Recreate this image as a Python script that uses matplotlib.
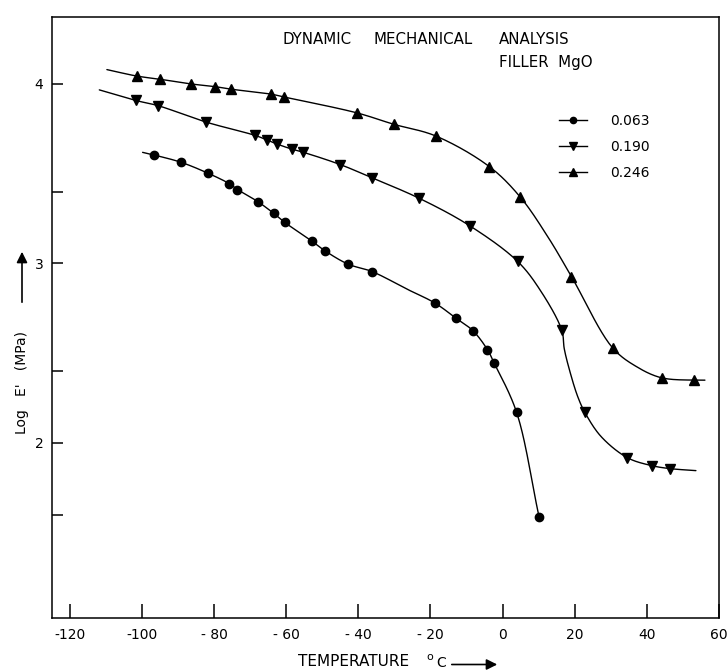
import numpy as np
import matplotlib
matplotlib.use('Agg')
import matplotlib.pyplot as plt
import matplotlib.patches as mpatches
from matplotlib.lines import Line2D

# ---------------- data ----------------
labels = ['0.063', '0.190', '0.246']

# measured points (markers)
c063_T = [-96.6, -89.2, -81.8, -75.8, -73.5, -67.9, -63.5, -60.4, -52.9, -49.2,
          -42.8, -36.2, -18.8, -12.9, -8.2, -4.2, -2.4, 3.9, 10.1]
c063_E = [3.604, 3.564, 3.504, 3.445, 3.412, 3.345, 3.280, 3.229, 3.125, 3.070,
          2.996, 2.955, 2.780, 2.695, 2.625, 2.520, 2.448, 2.170, 1.589]

c190_T = [-101.7, -95.5, -82.1, -68.7, -65.4, -62.5, -58.4, -55.2, -45.0, -36.3,
          -23.1, -9.1, 4.2, 16.4, 22.8, 34.6, 41.3, 46.5]
c190_E = [3.908, 3.879, 3.787, 3.714, 3.689, 3.665, 3.637, 3.619, 3.551, 3.478,
          3.363, 3.210, 3.011, 2.629, 2.171, 1.918, 1.874, 1.857]

c246_T = [-101.4, -94.9, -86.4, -79.7, -75.3, -64.1, -60.5, -40.4, -30.1, -18.5,
          -3.7, 4.9, 19.1, 30.5, 44.1, 53.1]
c246_E = [4.044, 4.026, 4.000, 3.985, 3.971, 3.943, 3.927, 3.839, 3.775, 3.710,
          3.540, 3.370, 2.927, 2.530, 2.363, 2.350]

# extra points (no markers there)
c063_trace_T = [-99.8, -26.3]
c063_trace_E = [3.619, 2.855]
c190_trace_T = [-111.8, 10.6, 17.1, 18.5, 20.8, 27.3, 53.6]
c190_trace_E = [3.967, 2.846, 2.525, 2.410, 2.260, 2.036, 1.846]
c246_trace_T = [-109.7, 12.5, 37.4, 56.1]
c246_trace_E = [4.080, 3.150, 2.422, 2.350]

x_ticks = [-120, -100, -80, -60, -40, -20, 0, 20, 40, 60]
x_ticklabels = ['-120', '-100', '- 80', '- 60', '- 40', '- 20', '0', '20', '40', '60']
y_ticks = [2, 3, 4]
y_minor = [1.6, 2.4, 3.4]

# ---------------- drawing helpers ----------------
W, H = 728, 671
fig = plt.figure(figsize=(W / 100, H / 100), dpi=100)
ax = fig.add_axes([51.7 / W, 1 - 618 / H, (719 - 51.7) / W, (618 - 17) / H])
ax.set_xlim(-125, 60)
ax.set_ylim(1.025, 4.373)

SX, SY = 3.606, 179.5  # px per unit, smoothing is done in visual space


def smooth_curve(T, E, n=24):
    P = np.column_stack([np.asarray(T) * SX, np.asarray(E) * SY])
    P = np.vstack([2 * P[0] - P[1], P, 2 * P[-1] - P[-2]])
    out = []
    for i in range(1, len(P) - 2):
        p0, p1, p2, p3 = P[i - 1], P[i], P[i + 1], P[i + 2]
        t0 = 0.0
        t1 = t0 + np.linalg.norm(p1 - p0) ** 0.5
        t2 = t1 + np.linalg.norm(p2 - p1) ** 0.5
        t3 = t2 + np.linalg.norm(p3 - p2) ** 0.5
        t = np.linspace(t1, t2, n)[:, None]
        A1 = (t1 - t) / (t1 - t0) * p0 + (t - t0) / (t1 - t0) * p1
        A2 = (t2 - t) / (t2 - t1) * p1 + (t - t1) / (t2 - t1) * p2
        A3 = (t3 - t) / (t3 - t2) * p2 + (t - t2) / (t3 - t2) * p3
        B1 = (t2 - t) / (t2 - t0) * A1 + (t - t0) / (t2 - t0) * A2
        B2 = (t3 - t) / (t3 - t1) * A2 + (t - t1) / (t3 - t1) * A3
        C = (t2 - t) / (t2 - t1) * B1 + (t - t1) / (t2 - t1) * B2
        out.append(C)
    C = np.vstack(out)
    return C[:, 0] / SX, C[:, 1] / SY


series = [
    (c063_T, c063_E, c063_trace_T, c063_trace_E, 'o', 6.0),
    (c190_T, c190_E, c190_trace_T, c190_trace_E, 'v', 7.0),
    (c246_T, c246_E, c246_trace_T, c246_trace_E, '^', 7.0),
]
handles = []
for (T, E, tT, tE, mk, ms), lab in zip(series, labels):
    allT = np.array(list(T) + list(tT))
    allE = np.array(list(E) + list(tE))
    order = np.argsort(allT)
    xs, ys = smooth_curve(allT[order], allE[order])
    ax.plot(xs, ys, color='black', lw=1.0, solid_capstyle='round')
    ax.plot(T, E, linestyle='none', marker=mk, ms=ms, color='black', mec='black')
    handles.append(Line2D([], [], color='black', lw=1.0, marker=mk, ms=ms - 1.5))

# ---------------- axes styling ----------------
for sp in ax.spines.values():
    sp.set_linewidth(1.1)
ax.set_xticks(x_ticks)
ax.set_xticklabels(x_ticklabels)
ax.set_yticks(y_ticks)
ax.set_yticklabels([str(v) for v in y_ticks])
ax.set_yticks(y_minor, minor=True)
ax.tick_params(axis='x', direction='in', length=10, width=1.1, labelsize=10, pad=7)
ax.tick_params(axis='y', which='both', direction='in', length=8, width=1.1, labelsize=10, pad=6)
ax.tick_params(axis='y', which='minor', labelleft=False)

leg = ax.legend(handles, labels, frameon=False, fontsize=10, handlelength=2.0,
                handletextpad=1.7, labelspacing=0.85, borderpad=0, borderaxespad=0,
                loc='center left', bbox_to_anchor=(559 / W, 1 - 147 / H),
                bbox_transform=fig.transFigure)


def fpx(x, y):
    return x / W, 1 - y / H


# title texts
for word, x0 in [('DYNAMIC', 282), ('MECHANICAL', 374), ('ANALYSIS', 499)]:
    fig.text(*fpx(x0, 39), word, fontsize=10.8, ha='left', va='center')
fig.text(*fpx(499, 63), 'FILLER  MgO', fontsize=10.8, ha='left', va='center')

# x label
fig.text(*fpx(298, 662), 'TEMPERATURE', fontsize=11, ha='left', va='center')
fig.text(*fpx(426, 657), 'o', fontsize=8, ha='left', va='center')
fig.text(*fpx(436, 663), 'C', fontsize=10, ha='left', va='center')
fig.add_artist(mpatches.FancyArrowPatch(
    fpx(449, 664.5), fpx(500, 664.5), transform=fig.transFigure,
    arrowstyle='-|>', mutation_scale=16, color='black', lw=1.2))

# y label
fig.text(*fpx(22, 434), "Log   E'   (MPa)", fontsize=10, rotation=90,
         ha='center', va='bottom')
fig.add_artist(mpatches.FancyArrowPatch(
    fpx(22, 305), fpx(22, 249), transform=fig.transFigure,
    arrowstyle='-|>', mutation_scale=16, color='black', lw=1.2))

fig.savefig('out.png', dpi=100, facecolor='white')
